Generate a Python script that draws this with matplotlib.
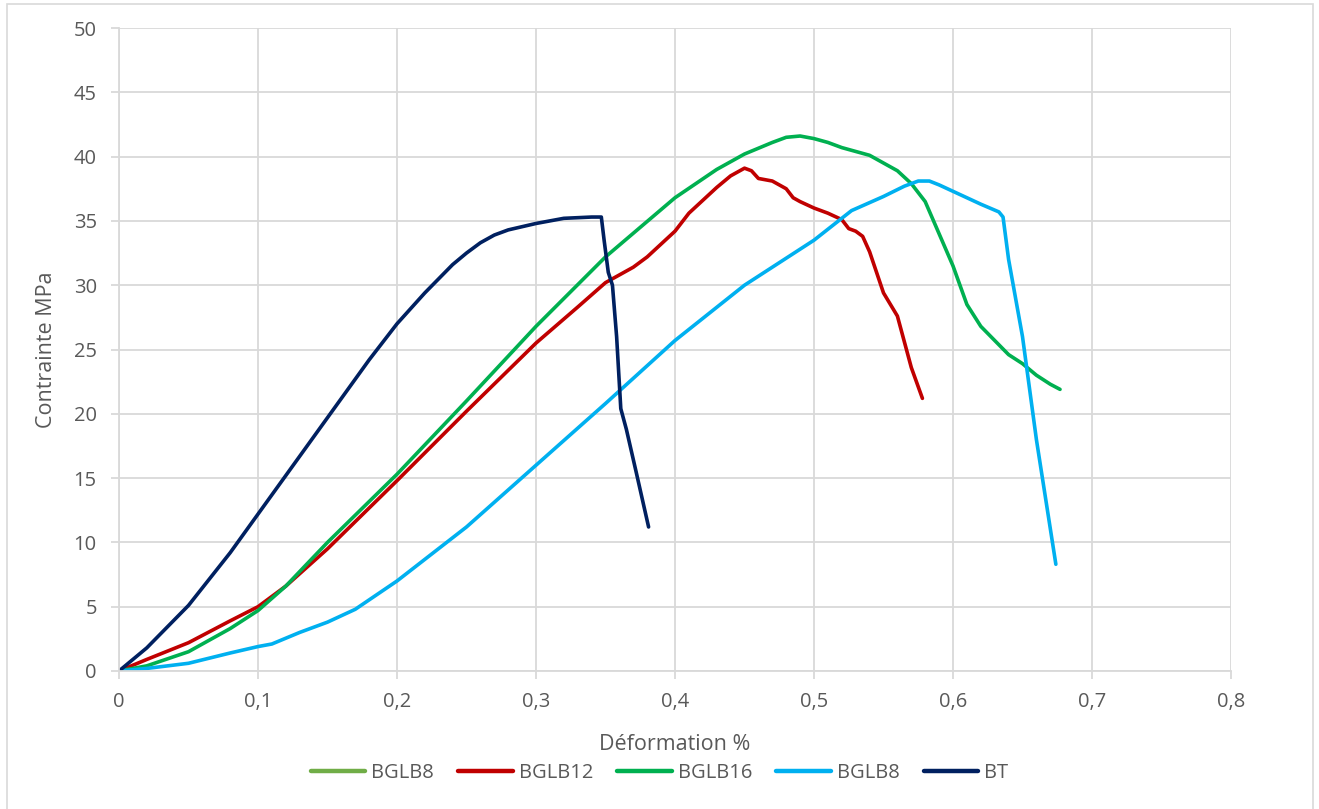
import matplotlib
matplotlib.use("Agg")
import matplotlib.pyplot as plt
from matplotlib.ticker import FuncFormatter
from matplotlib.patches import Rectangle

# Stress-strain curves (strain in %, stress in MPa)
bt_x = [0, 0.02, 0.05, 0.08, 0.1, 0.15, 0.18, 0.2, 0.22, 0.23, 0.24, 0.25, 0.26, 0.27,
        0.28, 0.3, 0.32, 0.34, 0.347, 0.349, 0.352, 0.355, 0.358, 0.361, 0.365, 0.372, 0.381]
bt_y = [0, 1.8, 5.1, 9.2, 12.2, 19.7, 24.2, 27.0, 29.4, 30.5, 31.6, 32.5, 33.3, 33.9,
        34.3, 34.8, 35.2, 35.3, 35.3, 33.5, 31.0, 30.0, 26.0, 20.4, 18.8, 15.5, 11.2]

bglb12_x = [0, 0.02, 0.05, 0.08, 0.1, 0.12, 0.15, 0.2, 0.25, 0.3, 0.33, 0.35, 0.37, 0.38,
            0.4, 0.41, 0.42, 0.43, 0.44, 0.45, 0.455, 0.46, 0.47, 0.48, 0.485, 0.49, 0.5,
            0.51, 0.52, 0.525, 0.53, 0.535, 0.54, 0.545, 0.55, 0.56, 0.565, 0.57, 0.578]
bglb12_y = [0, 0.9, 2.2, 3.9, 5.0, 6.6, 9.5, 14.8, 20.2, 25.5, 28.3, 30.2, 31.4, 32.2,
            34.2, 35.6, 36.6, 37.6, 38.5, 39.1, 38.9, 38.3, 38.1, 37.5, 36.8, 36.5, 36.0,
            35.6, 35.1, 34.4, 34.2, 33.8, 32.6, 31.0, 29.4, 27.6, 25.6, 23.6, 21.2]

bglb16_x = [0, 0.02, 0.05, 0.08, 0.1, 0.12, 0.15, 0.2, 0.25, 0.3, 0.35, 0.4, 0.43, 0.45,
            0.47, 0.48, 0.49, 0.5, 0.51, 0.52, 0.54, 0.55, 0.56, 0.57, 0.58, 0.59, 0.6,
            0.61, 0.62, 0.63, 0.64, 0.65, 0.66, 0.67, 0.677]
bglb16_y = [0, 0.4, 1.5, 3.3, 4.7, 6.6, 10.0, 15.3, 21.0, 26.8, 32.2, 36.8, 39.0, 40.2,
            41.1, 41.5, 41.6, 41.4, 41.1, 40.7, 40.1, 39.5, 38.9, 37.9, 36.5, 34.0, 31.5,
            28.5, 26.8, 25.7, 24.6, 23.9, 23.0, 22.3, 21.9]

bglb8_x = [0, 0.02, 0.05, 0.08, 0.1, 0.11, 0.13, 0.15, 0.17, 0.2, 0.25, 0.3, 0.35, 0.4,
           0.45, 0.5, 0.527, 0.55, 0.565, 0.575, 0.583, 0.59, 0.6, 0.62, 0.633, 0.636,
           0.64, 0.65, 0.66, 0.674]
bglb8_y = [0, 0.2, 0.6, 1.4, 1.9, 2.1, 3.0, 3.8, 4.8, 7.0, 11.2, 16.0, 20.8, 25.7,
           30.0, 33.5, 35.8, 36.9, 37.7, 38.1, 38.1, 37.8, 37.3, 36.3, 35.7, 35.3,
           32.0, 26.0, 18.0, 8.3]

series_names = ["BGLB8", "BGLB12", "BGLB16", "BGLB8", "BT"]
series_colors = ["#70ad47", "#c00000", "#00b050", "#00b0f0", "#002060"]

x_ticks = [0, 0.1, 0.2, 0.3, 0.4, 0.5, 0.6, 0.7, 0.8]
y_ticks = list(range(0, 55, 5))

plt.rcParams["font.family"] = ["Open Sans", "DejaVu Sans"]
text_color = "#595959"
grid_color = "#d9d9d9"

fig = plt.figure(figsize=(13.19, 8.09), dpi=100)
ax = fig.add_axes([119 / 1319, 1 - 671 / 809, (1231 - 119) / 1319, (671 - 28) / 809])

data = [
    ([], []),
    (bglb12_x, bglb12_y),
    (bglb16_x, bglb16_y),
    (bglb8_x, bglb8_y),
    (bt_x, bt_y),
]
for (xs, ys), name, col in zip(data, series_names, series_colors):
    ax.plot(xs, ys, color=col, lw=2.6, label=name, solid_joinstyle="round",
            solid_capstyle="round")

ax.set_xlim(0, 0.8)
ax.set_ylim(0, 50)
ax.set_xticks(x_ticks)
ax.set_yticks(y_ticks)
ax.xaxis.set_major_formatter(FuncFormatter(lambda v, p: ("%g" % round(v, 2)).replace(".", ",")))
ax.grid(True, color=grid_color, lw=1.3)
ax.set_axisbelow(True)
for s in ["top", "right"]:
    ax.spines[s].set_visible(False)
for s in ["left", "bottom"]:
    ax.spines[s].set_color(grid_color)
    ax.spines[s].set_linewidth(1.3)
ax.tick_params(axis="both", colors=grid_color, labelcolor=text_color, labelsize=14.5,
               length=6, width=1.3)
ax.tick_params(axis="x", pad=9)
ax.tick_params(axis="y", pad=10)

ax.set_xlabel("Déformation %", color=text_color, fontsize=15.5, labelpad=16)
ax.set_ylabel("Contrainte MPa", color=text_color, fontsize=15.5, labelpad=12)

leg = fig.legend(loc="center", bbox_to_anchor=(0.5, 1 - 773 / 809), ncol=5, frameon=False,
                 fontsize=14.5, handlelength=2.7, columnspacing=1.2, handletextpad=0.3,
                 labelcolor=text_color)
for h in leg.get_lines():
    h.set_linewidth(3.2)

fig.patches.append(Rectangle((7 / 1319, -0.01), (1313 - 7) / 1319, 1.0 - 4 / 809 + 0.01,
                             transform=fig.transFigure, fill=False, edgecolor="#d9d9d9",
                             lw=1.2))

fig.savefig("out.png", dpi=100)
